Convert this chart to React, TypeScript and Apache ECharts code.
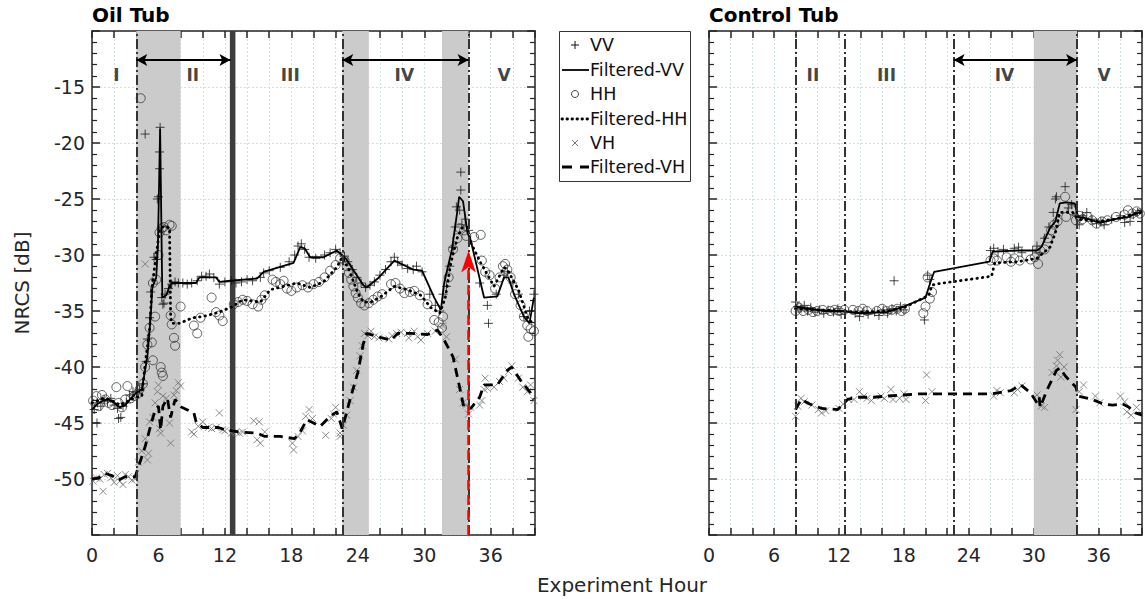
import { useEffect, useRef } from 'react';
import * as echarts from 'echarts';

const FONT = '"DejaVu Sans", Verdana, sans-serif';
const INK = '#262626';

// ---------- axis / tick data ----------
const xTickLabels = [0, 6, 12, 18, 24, 30, 36];
const yTickLabels = [-50, -45, -40, -35, -30, -25, -20, -15];

// ---------- Oil tub ----------
const oilVV: number[][] = [
  [0.2,-43.8],[0.45,-45.0],[0.5,-43.2],[0.8,-43.5],[1.1,-42.9],[1.4,-43.1],[1.7,-42.8],[2.0,-43.4],[2.3,-43.7],[2.4,-44.6],[2.6,-44.5],[2.8,-43.5],[3.1,-43.2],[3.4,-42.5],[3.7,-42.2],[4.0,-42.3],
  [4.3,-42.0],[4.6,-41.5],[4.8,-19.2],[4.9,-39.5],[5.0,-37.5],[5.2,-35.6],[5.3,-33.3],[5.6,-30.2],[5.8,-30.4],[5.9,-25.0],[6.0,-24.8],[6.1,-22.3],[6.1,-20.8],[6.15,-18.6],[6.3,-33.8],[6.4,-34.4],[6.5,-34.3],[6.6,-33.5],[6.9,-33.0],[7.2,-32.6],[7.5,-32.4],[7.8,-32.5],[8.2,-32.5],[8.6,-32.6],[9.0,-32.5],[9.5,-32.3],[9.9,-31.9],[10.3,-31.9],[10.6,-31.7],[11.0,-32.0],[11.5,-32.6],[12.0,-32.4],[12.6,-32.3],[13.0,-32.5],[13.5,-32.4],[14.0,-32.2],[14.5,-32.3],
  [15.2,-32.0],[15.5,-31.6],[16.0,-31.4],[17.0,-31.1],[17.8,-30.6],[18.3,-30.0],[18.6,-29.2],[18.9,-29.0],[19.2,-29.5],[19.6,-30.2],[20.2,-30.3],[21.0,-30.0],[21.5,-29.8],[22.0,-29.5],[22.4,-29.8],
  [22.8,-30.1],[23.1,-30.6],[23.5,-31.3],[23.9,-32.0],[24.3,-32.5],[24.7,-32.9],[25.1,-32.7],[25.5,-32.4],[26.0,-31.8],[26.5,-31.3],[27.0,-30.6],[27.3,-30.2],[27.6,-30.6],[28.0,-30.9],[28.5,-31.2],[29.0,-31.3],[29.3,-31.0],[29.8,-31.5],
  [30.5,-33.5],[31.0,-34.5],[31.4,-35.0],[31.7,-33.5],[32.0,-32.8],[32.3,-31.0],[32.6,-29.3],[32.8,-27.5],[32.9,-25.7],[33.3,-22.6],[33.3,-24.2],[33.2,-26.0],[33.4,-27.3],[33.7,-26.8],[34.0,-27.8],
  [35.0,-32.5],[35.7,-34.5],[35.8,-36.1],[36.5,-33.5],[37.2,-31.8],[37.5,-31.5],[38.0,-32.5],[38.5,-33.5],[39.0,-35.5],[39.5,-35.0],[39.9,-33.5],
];
const oilVVFilt: number[][] = [
  [0,-43.8],[0.5,-43.3],[1,-43.0],[1.5,-42.9],[2,-43.2],[2.5,-43.6],[3,-43.4],[3.5,-42.8],[4,-42.3],[4.5,-42.0],[5,-39.1],[5.3,-35.5],[5.45,-32.9],[5.8,-32.0],[5.95,-29.3],[6.15,-18.7],[6.35,-33.8],[6.7,-33.6],[7.0,-32.8],[7.2,-32.5],[8,-32.5],[9.4,-32.5],[9.7,-32.0],[11.2,-32.0],[11.5,-32.4],[12.5,-32.3],[14.9,-32.1],[15.5,-31.5],[18.2,-30.7],[18.8,-29.3],[19.2,-29.4],[19.7,-30.2],[20.9,-30.2],[22.1,-29.6],[22.9,-30.3],[24.5,-32.7],[24.8,-32.9],[25.8,-32.1],[27.3,-30.5],[29.0,-31.3],[29.8,-31.4],[30.9,-33.8],[31.5,-34.9],[31.8,-32.5],[32.5,-29.5],[33.0,-26.0],[33.15,-24.8],[33.5,-25.2],[33.9,-28.0],[34.2,-28.7],[35.4,-33.8],[36.6,-33.7],[37.2,-32.0],[37.6,-32.0],[38.1,-33.5],[39.0,-35.5],[39.5,-36.1],[39.9,-33.8],
];
const oilHH: number[][] = [
  [0.1,-43.0],[0.4,-42.6],[0.6,-43.5],[0.9,-42.5],[1.2,-42.9],[1.5,-43.2],[1.8,-43.4],[2.2,-41.8],[2.4,-43.2],[2.7,-43.6],[3.0,-42.9],[3.2,-41.7],[3.5,-42.8],[3.8,-42.6],[4.1,-42.4],
  [4.3,-42.0],[4.4,-16.0],[4.6,-41.5],[4.8,-40.0],[5.0,-38.0],[5.2,-36.5],[5.4,-37.8],[5.5,-39.4],[5.7,-35.5],[5.5,-32.5],[5.8,-32.2],[6.0,-30.0],[6.1,-28.0],[6.2,-40.0],[6.3,-27.6],[6.3,-40.5],[6.4,-40.8],[6.5,-27.5],[6.7,-27.8],[7.0,-27.3],[7.2,-27.4],[7.1,-35.4],[7.2,-36.2],[7.4,-37.4],[7.5,-38.1],[8.0,-34.6],
  [9.2,-36.3],[9.5,-37.0],[9.8,-35.6],[10.8,-33.8],[11.2,-35.1],[11.5,-35.4],[11.8,-35.9],
  [12.8,-34.4],[13.2,-34.2],[13.6,-34.0],[14.0,-34.1],[14.5,-34.4],[15.0,-34.6],[15.3,-34.0],[15.6,-33.6],[16.3,-32.2],[16.6,-32.4],[17.0,-32.6],[17.3,-32.3],[17.6,-33.0],[18.0,-33.2],[18.5,-32.9],[19.0,-32.7],[19.5,-32.9],[20.0,-32.6],[20.5,-32.4],[21.0,-32.0],[21.5,-31.4],[22.0,-30.9],[22.4,-30.3],
  [22.8,-30.5],[23.0,-31.0],[23.2,-31.6],[23.4,-32.2],[23.6,-32.8],[23.8,-33.4],[24.0,-33.8],[24.3,-34.3],[24.6,-34.5],[25.0,-34.3],[25.4,-34.0],[25.8,-33.7],[26.2,-33.5],
  [27.0,-32.6],[27.4,-32.5],[27.8,-33.0],[28.2,-33.4],[28.7,-33.3],[29.1,-33.2],[29.6,-33.6],[30.3,-34.4],[30.9,-35.8],[31.3,-36.0],[31.6,-36.5],[31.7,-35.5],[32.2,-32.0],[32.6,-29.5],[33.0,-28.5],[33.2,-27.6],[33.6,-27.8],[33.8,-28.3],
  [34.5,-28.4],[35.1,-28.2],[35.2,-30.5],[35.5,-31.5],[35.9,-31.8],[36.4,-33.0],[36.8,-32.0],[37.1,-31.0],[37.3,-30.8],[37.5,-31.3],[37.8,-32.0],[38.2,-33.5],[38.7,-34.5],[39.0,-35.5],[39.3,-36.3],[39.4,-37.3],[39.6,-36.6],[39.9,-36.8],
];
const oilHHFilt: number[][] = [
  [0,-43.2],[0.5,-43.0],[1,-42.8],[1.5,-42.9],[2,-43.1],[2.5,-43.4],[3,-43.2],[3.5,-42.9],[4,-42.7],[4.5,-42.6],[4.8,-39.7],[5.2,-36.7],[5.4,-33.1],[5.7,-30.7],[6.1,-27.8],[6.5,-27.4],[7.0,-27.6],[7.1,-35.5],[7.2,-36.1],[7.9,-36.1],[9.1,-35.6],[10,-35.5],[11.5,-35.1],[12.7,-34.6],[13.6,-34.0],[15.2,-34.2],[16.1,-33.1],[18.5,-32.5],[19.7,-32.9],[20.9,-32.4],[22.1,-31.1],[22.6,-30.2],[23.2,-31.3],[24.0,-33.4],[24.5,-34.2],[25.2,-34.2],[26.1,-33.7],[27.3,-32.8],[28.5,-33.1],[29.7,-33.6],[30.6,-34.7],[31.4,-35.2],[31.9,-33.8],[32.4,-30.7],[33.0,-28.4],[33.4,-27.6],[33.9,-27.5],[34.2,-28.9],[35.1,-30.7],[36.3,-32.8],[37.2,-31.1],[37.5,-31.3],[38.5,-33.1],[39.4,-35.8],[39.9,-36.1],
];
const oilVH: number[][] = [
  [0.1,-50.2],[0.4,-49.9],[0.7,-50.0],[1.0,-51.1],[1.1,-49.6],[1.4,-49.5],[1.7,-49.9],[2.0,-50.3],[2.3,-49.7],[2.5,-50.2],[2.8,-50.5],[3.0,-49.6],[3.3,-49.8],[3.6,-50.1],[3.9,-50.0],
  [4.2,-48.5],[4.5,-47.5],[4.8,-46.4],[4.8,-30.8],[5.0,-48.3],[5.1,-47.7],[5.2,-44.9],[5.5,-44.5],[5.7,-43.2],[5.9,-42.2],[6.0,-41.6],[6.1,-45.5],[6.2,-45.9],[6.4,-42.6],[6.7,-42.8],[7.0,-45.0],[7.1,-46.8],[7.4,-42.5],[7.6,-42.1],[7.8,-41.4],[8.0,-41.7],
  [9.0,-45.8],[9.2,-46.0],[9.6,-45.3],[10.0,-44.9],[10.5,-45.4],[10.8,-45.5],[11.5,-44.1],[11.2,-45.4],[11.8,-45.6],[12.0,-45.7],[12.6,-45.9],[13.0,-45.8],[13.3,-45.9],[13.6,-45.8],
  [14.6,-44.8],[15.1,-44.9],[14.9,-46.5],[15.2,-46.8],[15.6,-45.8],[18.1,-46.8],[18.2,-47.4],[18.6,-46.2],[19.0,-45.7],[19.3,-44.4],[19.6,-43.8],[19.9,-44.6],[21.1,-46.1],[21.6,-44.6],[21.8,-44.2],[22.0,-43.6],[22.4,-45.9],[22.4,-46.2],
  [22.7,-45.2],[23.0,-44.3],[23.3,-43.0],[23.6,-41.8],[23.9,-40.3],[24.2,-39.0],[24.4,-38.1],[24.6,-37.0],[24.9,-37.2],[25.2,-36.8],[25.5,-37.3],[25.9,-37.4],
  [26.8,-37.5],[27.1,-37.2],[27.5,-37.0],[27.9,-36.9],[28.5,-37.0],[28.6,-37.4],[29.1,-36.8],[29.4,-37.3],[29.7,-37.6],[30.3,-37.0],[31.0,-36.8],[31.4,-36.4],[31.7,-36.3],[32.0,-37.3],
  [32.8,-39.3],[33.2,-42.0],[33.5,-43.2],[33.8,-43.4],[34.0,-44.2],[34.2,-43.6],
  [35.0,-43.4],[35.2,-43.0],[35.4,-42.0],[35.5,-41.0],[35.7,-41.9],[36.3,-41.8],[36.8,-41.3],[37.2,-41.0],[37.6,-40.4],[37.9,-39.9],[38.5,-41.0],[38.9,-41.8],[39.3,-42.2],[39.6,-41.6],[39.9,-43.0],
];
const oilVHFilt: number[][] = [
  [0,-50.0],[0.6,-49.9],[1.2,-49.5],[1.8,-49.7],[2.4,-50.1],[3,-49.8],[3.9,-49.8],[4.4,-48.3],[4.8,-47.1],[5.2,-45.6],[5.7,-43.8],[6.0,-43.5],[6.2,-45.6],[6.4,-43.5],[6.8,-42.8],[7.1,-44.5],[7.5,-42.9],[8.1,-43.6],[9.2,-44.1],[9.4,-44.9],[10,-45.4],[11.4,-45.4],[12,-45.6],[13.3,-45.8],[14.9,-45.9],[15.6,-46.2],[17,-46.2],[18.3,-46.4],[18.8,-45.8],[19.4,-44.7],[20,-45.0],[20.6,-45.3],[21.5,-44.4],[22.1,-44.0],[22.6,-45.5],[23.3,-42.9],[24,-40.5],[24.5,-37.9],[24.8,-37.0],[25.8,-37.3],[27,-37.6],[27.6,-37.0],[28.8,-37.0],[30.3,-37.1],[31.2,-36.7],[31.8,-37.6],[32.6,-39.1],[33.3,-42.3],[33.6,-43.7],[34.2,-43.7],[35,-42.7],[35.4,-41.6],[36.6,-41.6],[37.5,-40.3],[37.9,-40.0],[38.7,-41.2],[39.6,-42.3],[39.9,-42.9],
];

// ---------- Control tub ----------
const ctrlVV: number[][] = [
  [8.0,-34.2],[8.2,-34.6],[8.5,-34.8],[8.8,-34.5],[9.1,-35.0],[9.4,-34.7],[9.8,-35.1],[10.2,-34.9],[10.6,-35.2],[11.0,-34.9],[11.5,-35.1],[11.9,-34.8],[12.2,-35.3],[12.6,-35.0],[13.5,-35.2],[13.9,-35.5],[14.3,-35.0],[14.7,-35.3],[15.3,-35.1],[15.7,-35.4],[16.1,-34.9],[16.5,-35.2],[16.9,-34.8],[17.3,-35.0],[17.7,-34.6],[18.0,-34.9],
  [17.1,-32.3],[19.9,-35.8],[20.2,-31.8],[20.4,-32.2],
  [26.0,-29.6],[26.3,-29.4],[26.7,-29.7],[27.2,-29.5],[28.2,-29.4],[28.6,-29.3],[28.9,-29.8],[29.9,-29.6],[30.3,-29.2],[30.5,-29.8],
  [31.0,-28.5],[31.4,-27.5],[31.8,-26.2],[32.0,-25.0],[32.1,-24.8],[32.9,-23.9],[33.2,-25.8],[33.5,-25.5],
  [33.9,-26.5],[34.2,-27.3],[34.5,-26.5],[34.9,-26.2],[35.3,-26.8],[35.8,-27.2],[36.2,-27.0],[36.5,-27.3],[37.2,-26.8],[38.0,-26.5],[38.4,-27.1],[38.9,-27.0],[39.2,-26.4],[39.6,-26.2],
];
const ctrlVVFilt: number[][] = [
  [8.0,-34.6],[9.2,-34.8],[10.7,-35.0],[12.2,-35.0],[14.0,-35.2],[16.4,-35.1],[18.0,-34.6],[20.0,-33.8],[20.5,-32.3],[20.8,-31.5],[25.9,-30.6],[26.2,-29.7],[28.5,-29.6],[30.3,-29.6],[30.7,-29.3],[31.5,-27.6],[32.0,-27.0],[32.4,-25.4],[33.0,-25.3],[33.8,-25.4],[34.1,-26.6],[34.8,-26.7],[35.7,-27.0],[36.2,-27.1],[37.5,-26.8],[38.8,-26.6],[39.4,-26.3],[40,-26.1],
];
const ctrlHH: number[][] = [
  [8.0,-35.0],[8.3,-34.7],[8.7,-35.0],[9.2,-34.9],[9.6,-35.1],[10.0,-35.0],[10.5,-34.9],[11.2,-35.0],[11.6,-34.9],[12.0,-35.0],[12.5,-34.9],[13.3,-34.9],[13.8,-35.0],[14.2,-34.8],[14.6,-35.0],[15.5,-35.0],[16.0,-34.8],[16.4,-35.0],[16.9,-34.9],[17.4,-34.8],[17.8,-35.0],[18.1,-34.8],
  [19.8,-35.2],[20.0,-34.6],[20.4,-33.9],[20.6,-33.3],[20.2,-32.0],
  [26.0,-30.5],[26.3,-30.3],[26.6,-30.5],[27.5,-30.2],[27.9,-30.6],[28.2,-30.3],[28.7,-30.5],[29.7,-30.4],[30.1,-30.2],[30.4,-30.8],[30.6,-29.6],
  [31.0,-29.5],[31.3,-28.5],[31.6,-27.8],[31.9,-27.3],[32.2,-27.0],[32.9,-24.8],[33.0,-26.6],[33.5,-26.0],
  [33.9,-26.9],[34.2,-26.5],[34.5,-26.8],[35.0,-26.6],[35.4,-26.9],[35.8,-27.2],[36.3,-27.0],[36.8,-26.9],[37.6,-26.6],[38.4,-26.4],[38.7,-26.0],[39.1,-26.3],[39.5,-26.1],[39.8,-26.3],
];
const ctrlHHFilt: number[][] = [
  [8.0,-34.8],[10,-34.9],[12,-35.0],[14,-35.1],[16.4,-35.0],[18,-34.7],[20.3,-33.6],[20.6,-32.7],[20.9,-32.6],[26.1,-31.9],[26.4,-30.7],[28.5,-30.6],[30.3,-30.3],[31.5,-29.3],[32.0,-28.0],[32.4,-26.2],[33.6,-26.2],[34.1,-26.8],[36.0,-27.0],[37.5,-26.8],[39.4,-26.3],[40,-26.2],
];
const ctrlVH: number[][] = [
  [8.0,-44.4],[8.2,-43.5],[8.5,-42.8],[8.8,-43.1],[9.5,-43.4],[10.1,-43.8],[10.4,-44.1],[10.8,-43.9],[12.0,-43.7],[12.4,-43.3],[12.9,-42.9],[13.4,-42.9],[13.9,-42.2],[14.3,-42.6],[14.6,-42.8],[15.0,-43.0],[15.9,-42.6],[16.2,-42.8],[16.8,-42.0],[17.0,-42.9],[17.6,-42.8],[18.0,-42.4],[18.2,-42.9],
  [20.0,-43.0],[20.1,-40.7],[20.6,-42.2],[26.3,-42.6],[26.6,-42.1],[26.9,-42.3],[28.2,-42.3],[28.5,-42.0],[28.9,-41.7],
  [30.3,-42.5],[30.7,-43.5],[31.0,-43.6],[31.7,-40.5],[32.1,-39.9],[32.4,-38.9],[32.5,-40.9],[32.8,-40.0],[32.2,-39.4],
  [33.9,-43.8],[34.2,-42.2],[34.6,-41.6],[35.7,-42.6],[36.1,-43.2],[38.0,-42.6],[38.4,-43.1],[38.6,-44.0],[39.0,-44.3],[39.5,-43.6],
];
const ctrlVHFilt: number[][] = [
  [8.0,-43.8],[8.5,-42.9],[9.3,-43.3],[10.4,-43.7],[11.9,-43.8],[12.8,-42.9],[13.7,-42.7],[15.2,-42.7],[16.4,-42.6],[17.9,-42.5],[19.4,-42.4],[22.4,-42.4],[26.1,-42.4],[26.7,-42.3],[27.9,-42.1],[28.8,-41.6],[29.7,-42.3],[30.3,-43.2],[30.5,-42.7],[30.6,-43.6],[31.2,-42.1],[32.1,-40.3],[32.4,-40.1],[33.0,-40.9],[33.9,-41.8],[34.1,-42.6],[35.4,-42.9],[36.4,-43.3],[37.3,-43.4],[38.2,-43.3],[38.8,-43.6],[39.4,-44.1],[40,-44.3],
];

// ---------- annotations ----------
const oilShades = [[4, 8], [22.6, 25], [31.6, 34]];
const oilDarkBand = [12.45, 12.95];
const oilVLines = [4, 22.6, 34];
const oilArrows = [[4, 12.5], [22.6, 34]];
const oilRegions: [string, number][] = [['I', 2.2], ['II', 9.1], ['III', 17.9], ['IV', 28.2], ['V', 37.2]];
const ctrlShades = [[30, 34]];
const ctrlVLines = [8, 12.5, 22.6, 34];
const ctrlArrows = [[22.6, 34]];
const ctrlRegions: [string, number][] = [['II', 9.6], ['III', 16.4], ['IV', 27.3], ['V', 36.5]];
const arrowY = -12.6;
const regionLabelY = -13.9;
const redArrow = { x: 34, from: -55, to: -29.6 };

const PLUS = 'path://M5,0L5,10M0,5L10,5';
const CROSS = 'path://M0,0L10,10M0,10L10,0';

function mkX(gridIndex: number, position: string, main: boolean) {
  return {
    type: 'value', gridIndex, position, min: 0, max: 40, interval: 2,
    axisLine: { show: true, onZero: false, lineStyle: { color: INK, width: 1.5 } },
    axisTick: { show: true, inside: true, length: 7, lineStyle: { color: INK, width: 1.5 } },
    axisLabel: {
      show: main, margin: 10, fontSize: 19, color: INK, fontFamily: FONT,
      formatter: (v: number) => (xTickLabels.includes(v) ? String(v) : ''),
    },
    splitLine: { show: main, lineStyle: { color: '#cfe0e0', type: [2, 2], width: 1 } },
  };
}
function mkY(gridIndex: number, position: string, labels: boolean) {
  return {
    type: 'value', gridIndex, position, min: -55, max: -10, interval: 5,
    axisLine: { show: true, onZero: false, lineStyle: { color: INK, width: 1.5 } },
    axisTick: { show: true, inside: true, length: 8, lineStyle: { color: INK, width: 1.5 } },
    minorTick: { show: true, splitNumber: 5, length: 5, lineStyle: { color: INK, width: 1.2 } },
    axisLabel: {
      show: labels, margin: 7, fontSize: 19, color: INK, fontFamily: FONT,
      formatter: (v: number) => (yTickLabels.includes(v) ? String(v) : ''),
    },
    splitLine: { show: position === 'left', lineStyle: { color: '#cfe0e0', type: [2, 2], width: 1 } },
  };
}

function panelSeries(
  ax: number,
  d: { vv: number[][]; vvf: number[][]; hh: number[][]; hhf: number[][]; vh: number[][]; vhf: number[][] },
  shades: number[][], dark: number[] | null, vlines: number[], arrows: number[][], regions: [string, number][], red: boolean,
) {
  const base = { xAxisIndex: ax, yAxisIndex: ax };
  const areaData: any[] = shades.map(([a, b]) => [{ xAxis: a }, { xAxis: b }]);
  if (dark) areaData.push([{ xAxis: dark[0], itemStyle: { color: '#3d3d3d' } }, { xAxis: dark[1] }]);
  const arrowData: any[] = arrows.map(([a, b]) => [
    { coord: [a, arrowY], symbol: 'arrow', symbolSize: [9, 11] },
    { coord: [b, arrowY], symbol: 'arrow', symbolSize: [9, 11] },
  ]);
  const series: any[] = [
    {
      ...base, type: 'line', data: [], z: 1, silent: true,
      markArea: { silent: true, itemStyle: { color: '#cbcbcb' }, data: areaData },
      markLine: {
        silent: true, symbol: 'none', label: { show: false },
        lineStyle: { color: '#333', width: 2, type: [10, 3, 2, 3] },
        data: vlines.map((x) => ({ xAxis: x })),
      },
    },
    {
      ...base, type: 'line', name: 'Filtered-VV', data: d.vvf, showSymbol: false, z: 4, silent: true,
      lineStyle: { color: '#000', width: 1.8 },
    },
    {
      ...base, type: 'line', name: 'Filtered-HH', data: d.hhf, showSymbol: false, z: 4, silent: true,
      lineStyle: { color: '#000', width: 2.8, type: [0.5, 5], cap: 'round' },
    },
    {
      ...base, type: 'line', name: 'Filtered-VH', data: d.vhf, showSymbol: false, z: 4, silent: true,
      lineStyle: { color: '#000', width: 2.8, type: [9, 6] },
    },
    {
      ...base, type: 'scatter', name: 'VV', data: d.vv, symbol: PLUS, symbolSize: 9, z: 3, silent: true,
      itemStyle: { color: 'rgba(0,0,0,0)', borderColor: '#1a1a1a', borderWidth: 1 },
    },
    {
      ...base, type: 'scatter', name: 'HH', data: d.hh, symbol: 'circle', symbolSize: 9, z: 3, silent: true,
      itemStyle: { color: 'rgba(0,0,0,0)', borderColor: '#3a3a3a', borderWidth: 1 },
    },
    {
      ...base, type: 'scatter', name: 'VH', data: d.vh, symbol: CROSS, symbolSize: 7, z: 3, silent: true,
      itemStyle: { color: 'rgba(0,0,0,0)', borderColor: '#707070', borderWidth: 1 },
    },
    {
      ...base, type: 'scatter', data: regions.map(([n, x]) => ({ name: n, value: [x, regionLabelY] })),
      symbolSize: 1, z: 6, silent: true, itemStyle: { color: 'rgba(0,0,0,0)' },
      label: { show: true, position: 'inside', formatter: '{b}', fontSize: 17, fontWeight: 'bold', color: '#111', fontFamily: FONT },
    },
  ];
  const annData: any[] = [...arrowData];
  if (red) {
    annData.push([
      { coord: [redArrow.x, redArrow.from], symbol: 'none', lineStyle: { color: '#ff0000', width: 2.5, type: [10, 5] } },
      { coord: [redArrow.x, redArrow.to], symbol: 'arrow', symbolSize: [11, 22] },
    ]);
  }
  series.push({
    ...base, type: 'line', data: [], z: 8, silent: true,
    markLine: {
      silent: true, label: { show: false },
      lineStyle: { color: '#000', width: 1.8, type: 'solid' },
      itemStyle: { color: '#000' },
      data: annData,
    },
  });
  return series;
}

function buildOption() {
  const legendRows = [45, 70, 94, 119, 143, 167];
  const legendNames = ['VV', 'Filtered-VV', 'HH', 'Filtered-HH', 'VH', 'Filtered-VH'];
  const lg: any[] = [
    { type: 'rect', shape: { x: 559.5, y: 31.5, width: 131, height: 150 }, style: { fill: '#fff', stroke: '#333', lineWidth: 1 }, z: 100 },
  ];
  legendNames.forEach((n, i) => {
    lg.push({
      type: 'text', x: 590, y: legendRows[i], z: 101,
      style: { text: n, font: `17.5px ${FONT}`, fill: '#111', textAlign: 'left', textVerticalAlign: 'middle', align: 'left', verticalAlign: 'middle' },
    });
  });
  const cx = 575;
  lg.push(
    { type: 'line', z: 101, shape: { x1: cx - 4, y1: legendRows[0], x2: cx + 4, y2: legendRows[0] }, style: { stroke: '#111', lineWidth: 1 } },
    { type: 'line', z: 101, shape: { x1: cx, y1: legendRows[0] - 4, x2: cx, y2: legendRows[0] + 4 }, style: { stroke: '#111', lineWidth: 1 } },
    { type: 'line', z: 101, shape: { x1: 562, y1: legendRows[1], x2: 589, y2: legendRows[1] }, style: { stroke: '#000', lineWidth: 1.8 } },
    { type: 'circle', z: 101, shape: { cx, cy: legendRows[2], r: 3.5 }, style: { fill: 'none', stroke: '#444', lineWidth: 1 } },
    { type: 'line', z: 101, shape: { x1: 562, y1: legendRows[3], x2: 589, y2: legendRows[3] }, style: { stroke: '#000', lineWidth: 2.8, lineDash: [0.5, 4.5], lineCap: 'round' } },
    { type: 'line', z: 101, shape: { x1: cx - 3, y1: legendRows[4] - 3, x2: cx + 3, y2: legendRows[4] + 3 }, style: { stroke: '#777', lineWidth: 1 } },
    { type: 'line', z: 101, shape: { x1: cx - 3, y1: legendRows[4] + 3, x2: cx + 3, y2: legendRows[4] - 3 }, style: { stroke: '#777', lineWidth: 1 } },
    { type: 'line', z: 101, shape: { x1: 562, y1: legendRows[5], x2: 589, y2: legendRows[5] }, style: { stroke: '#000', lineWidth: 2.8, lineDash: [10, 8] } },
  );

  return {
    animation: false,
    backgroundColor: '#fff',
    textStyle: { fontFamily: FONT },
    grid: [
      { left: 92, top: 31, width: 443, height: 504 },
      { left: 709, top: 31, width: 443, height: 504 },
    ],
    xAxis: [mkX(0, 'bottom', true), mkX(0, 'top', false), mkX(1, 'bottom', true), mkX(1, 'top', false)],
    yAxis: [mkY(0, 'left', true), mkY(0, 'right', false), mkY(1, 'left', false), mkY(1, 'right', false)],
    series: [
      ...panelSeries(0, { vv: oilVV, vvf: oilVVFilt, hh: oilHH, hhf: oilHHFilt, vh: oilVH, vhf: oilVHFilt },
        oilShades, oilDarkBand, oilVLines, oilArrows, oilRegions, true),
      ...panelSeries(2, { vv: ctrlVV, vvf: ctrlVVFilt, hh: ctrlHH, hhf: ctrlHHFilt, vh: ctrlVH, vhf: ctrlVHFilt },
        ctrlShades, null, ctrlVLines, ctrlArrows, ctrlRegions, false),
    ],
    graphic: [
      { type: 'text', left: 92, top: 5, style: { text: 'Oil Tub', font: `bold 20px ${FONT}`, fill: '#000' } },
      { type: 'text', left: 709, top: 5, style: { text: 'Control Tub', font: `bold 20px ${FONT}`, fill: '#000' } },
      {
        type: 'text', x: 622, y: 585,
        style: { text: 'Experiment Hour', font: `20px ${FONT}`, fill: INK, textAlign: 'center', textVerticalAlign: 'middle', align: 'center', verticalAlign: 'middle' },
      },
      {
        type: 'text', x: 22, y: 283, rotation: Math.PI / 2,
        style: { text: 'NRCS [dB]', font: `20px ${FONT}`, fill: INK, textAlign: 'center', textVerticalAlign: 'middle', align: 'center', verticalAlign: 'middle' },
      },
      ...lg,
    ],
  };
}

export default function App() {
  const ref = useRef<HTMLDivElement>(null);
  useEffect(() => {
    document.body.style.margin = '0';
    const chart = echarts.init(ref.current!, null, { renderer: 'svg' });
    chart.setOption(buildOption() as any);
    return () => chart.dispose();
  }, []);
  return <div ref={ref} style={{ width: 1145, height: 599, overflow: 'hidden' }} />;
}
